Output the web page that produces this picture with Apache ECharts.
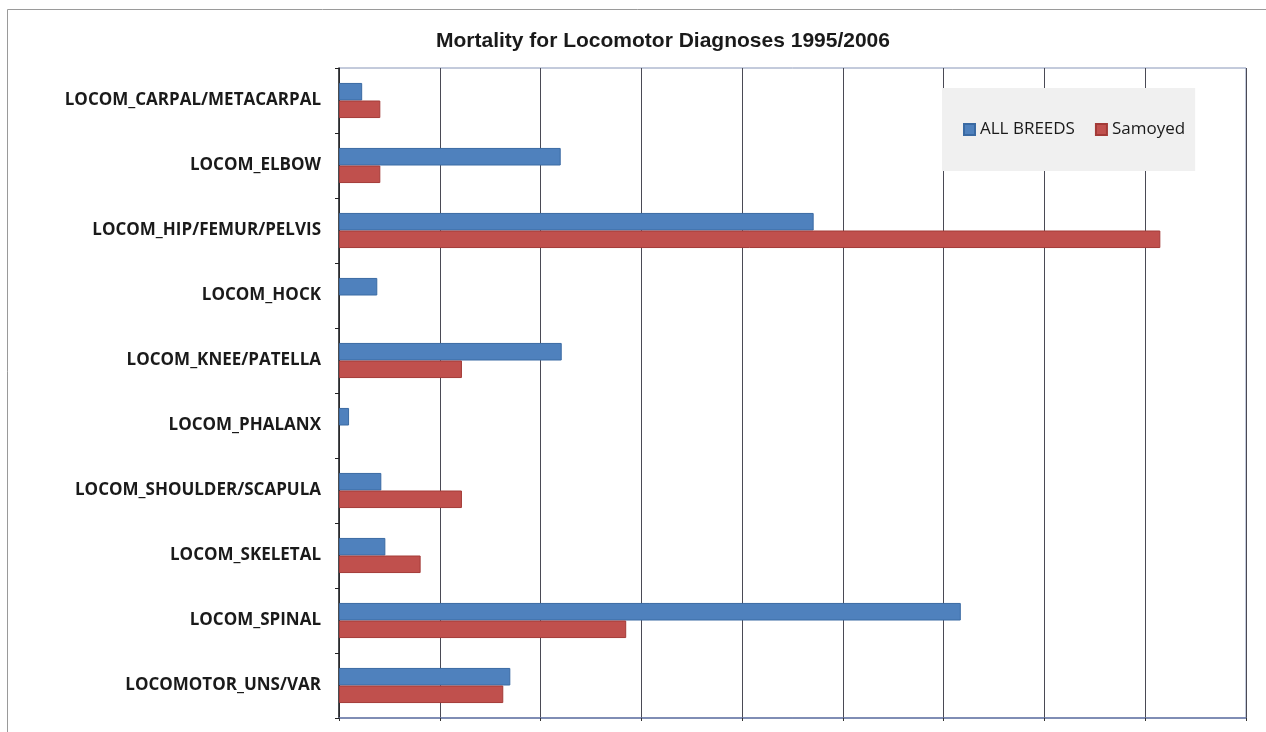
<!DOCTYPE html>
<html>
<head>
<meta charset="utf-8">
<script src="https://cdn.jsdelivr.net/npm/echarts@6/dist/echarts.min.js"></script>
<style>
  html, body { margin: 0; padding: 0; background: #fff; }
  #chart { width: 1266px; height: 732px; }
</style>
</head>
<body>
<div id="chart"></div>
<script>
// diagnoses, top to bottom
var diagnoses = [
    'LOCOM_CARPAL/METACARPAL',
    'LOCOM_ELBOW',
    'LOCOM_HIP/FEMUR/PELVIS',
    'LOCOM_HOCK',
    'LOCOM_KNEE/PATELLA',
    'LOCOM_PHALANX',
    'LOCOM_SHOULDER/SCAPULA',
    'LOCOM_SKELETAL',
    'LOCOM_SPINAL',
    'LOCOMOTOR_UNS/VAR'
];
// values in gridline units (no axis labels visible in the picture)
var allBreeds = [0.23, 2.20, 4.71, 0.38, 2.21, 0.10, 0.42, 0.46, 6.17, 1.70];
var samoyed   = [0.41, 0.41, 8.15, null, 1.22, null, 1.22, 0.81, 2.85, 1.63];

var chart = echarts.init(document.getElementById('chart'));

var option = {
    backgroundColor: '#fff',
    animation: false,
    title: {
        text: 'Mortality for Locomotor Diagnoses 1995/2006',
        left: 658,
        textAlign: 'center',
        top: 26,
        textStyle: {
            fontFamily: 'Liberation Sans',
            fontSize: 21,
            fontWeight: 'bold',
            color: '#1a1a1a'
        }
    },
    legend: {
        data: ['ALL BREEDS', 'Samoyed'],
        left: 942,
        top: 88,
        padding: [33, 10, 33, 21],
        backgroundColor: '#f0f0f0',
        itemWidth: 11,
        itemHeight: 11,
        itemGap: 20,
        icon: 'rect',
        textStyle: {
            fontFamily: 'Open Sans',
            fontSize: 17,
            color: '#1a1a1a'
        }
    },
    grid: {
        left: 339,
        right: 20,
        top: 68,
        bottom: 14,
        containLabel: false,
        show: true,
        borderColor: '#8896b8',
        borderWidth: 1
    },
    xAxis: {
        type: 'value',
        min: 0,
        max: 9,
        interval: 1,
        axisLabel: { show: false },
        axisTick: { show: true, length: 3, lineStyle: { color: '#333' } },
        axisLine: { show: true, lineStyle: { color: '#6a7aa8', width: 1.5 } },
        splitLine: { show: true, lineStyle: { color: '#4a4a55', width: 1 } }
    },
    yAxis: {
        type: 'category',
        data: diagnoses,
        inverse: true,
        axisLine: { show: true, lineStyle: { color: '#222', width: 1.5 } },
        axisTick: { show: true, length: 4, inside: false, lineStyle: { color: '#222' } },
        axisLabel: {
            fontFamily: 'Open Sans',
            fontSize: 17,
            fontWeight: 'bold',
            color: '#1a1a1a',
            margin: 18
        },
        splitLine: { show: false }
    },
    series: [
        {
            name: 'ALL BREEDS',
            type: 'bar',
            data: allBreeds,
            barGap: '0%',
            barCategoryGap: '46%',
            itemStyle: { color: '#4f81bd', borderColor: '#3a6aa3', borderWidth: 1 }
        },
        {
            name: 'Samoyed',
            type: 'bar',
            data: samoyed,
            itemStyle: { color: '#c0504d', borderColor: '#a33a37', borderWidth: 1 }
        }
    ],
    graphic: [
        {
            type: 'rect',
            shape: { x: 7.5, y: 9.5, width: 1270, height: 740 },
            style: { fill: null, stroke: '#9a9a9a', lineWidth: 1 },
            silent: true
        }
    ]
};

chart.setOption(option);
</script>
</body>
</html>
